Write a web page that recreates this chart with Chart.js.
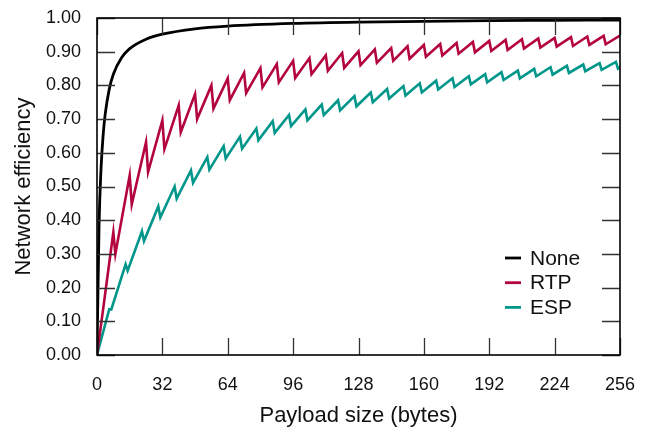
<!DOCTYPE html>
<html>
<head>
<meta charset="utf-8">
<script src="https://cdn.jsdelivr.net/npm/chart.js@4.4.1/dist/chart.umd.min.js"></script>
<style>
  body { margin: 0; background: #fff; }
  canvas { display: block; }
</style>
</head>
<body>
<canvas id="myChart" width="648" height="429"></canvas>
<script>
// series names and colours
var seriesNames = ['None', 'RTP', 'ESP'];
var seriesColors = ['#000000', '#b3043f', '#00968a'];

// None (smooth curve)
var noneX = [0, 1, 2, 3, 4, 6, 8, 12, 16, 24, 32, 48, 64, 96, 128, 160, 192, 224, 256];
var noneY = [0, 0.385, 0.556, 0.652, 0.714, 0.789, 0.833, 0.882, 0.909, 0.937, 0.952, 0.968, 0.976, 0.984, 0.988, 0.990, 0.992, 0.993, 0.994];

// RTP (peaks and troughs of the sawtooth)
var rtpX = [0, 8, 9, 16, 17, 24, 25, 32, 33, 40, 41, 48, 49, 56, 57, 64, 65, 72, 73, 80, 81, 88, 89, 96, 97,
  104, 105, 112, 113, 120, 121, 128, 129, 136, 137, 144, 145, 152, 153, 160, 161, 168, 169, 176, 177,
  184, 185, 192, 193, 200, 201, 208, 209, 216, 217, 224, 225, 232, 233, 240, 241, 248, 249, 256];
var rtpY = [0, 0.364, 0.300, 0.533, 0.447, 0.632, 0.543, 0.696, 0.611, 0.741, 0.661, 0.774, 0.700, 0.800, 0.731,
  0.821, 0.756, 0.837, 0.777, 0.851, 0.794, 0.863, 0.809, 0.873, 0.822, 0.881, 0.833, 0.889, 0.843,
  0.896, 0.852, 0.901, 0.860, 0.907, 0.867, 0.911, 0.873, 0.916, 0.879, 0.920, 0.885, 0.923, 0.889,
  0.926, 0.894, 0.929, 0.898, 0.932, 0.902, 0.935, 0.905, 0.937, 0.909, 0.939, 0.912, 0.941, 0.915,
  0.943, 0.917, 0.945, 0.920, 0.947, 0.922, 0.948];

// ESP (peaks and troughs of the sawtooth)
var espX = [0, 6, 7, 14, 15, 22, 23, 30, 31, 38, 39, 46, 47, 54, 55, 62, 63, 70, 71, 78, 79, 86, 87, 94, 95,
  102, 103, 110, 111, 118, 119, 126, 127, 134, 135, 142, 143, 150, 151, 158, 159, 166, 167, 174, 175,
  182, 183, 190, 191, 198, 199, 206, 207, 214, 215, 222, 223, 230, 231, 238, 239, 246, 247, 254, 255, 256];
var espY = [0, 0.136, 0.135, 0.269, 0.250, 0.367, 0.338, 0.441, 0.408, 0.500, 0.464, 0.548, 0.511, 0.587, 0.550,
  0.620, 0.583, 0.648, 0.612, 0.672, 0.637, 0.694, 0.659, 0.712, 0.679, 0.729, 0.696, 0.743, 0.712,
  0.756, 0.726, 0.768, 0.738, 0.779, 0.750, 0.789, 0.761, 0.798, 0.770, 0.806, 0.779, 0.814, 0.788,
  0.821, 0.795, 0.827, 0.803, 0.833, 0.809, 0.839, 0.816, 0.844, 0.821, 0.849, 0.827, 0.854, 0.832,
  0.858, 0.837, 0.862, 0.842, 0.866, 0.846, 0.870, 0.850, 0.853];

var fontFamily = '"Liberation Sans", Arial, sans-serif';

function toPoints(xs, ys) {
    var pts = [];
    for (var i = 0; i < xs.length; i++) {
        pts.push({ x: xs[i], y: ys[i] });
    }
    return pts;
}

// frame + inward tick marks on all four sides, and the legend inside the plot
var framePlugin = {
    id: 'frame',
    afterDatasetsDraw: function(chart) {
        var ctx = chart.ctx;
        var a = chart.chartArea;
        var xs = chart.scales.x;
        var ys = chart.scales.y;
        ctx.save();
        ctx.strokeStyle = '#333';
        ctx.lineWidth = 1.3;
        ctx.beginPath();
        xs.ticks.forEach(function(t) {
            var px = Math.round(xs.getPixelForValue(t.value)) + 0.5;
            ctx.moveTo(px, a.bottom); ctx.lineTo(px, a.bottom - 17);
            ctx.moveTo(px, a.top); ctx.lineTo(px, a.top + 17);
        });
        ys.ticks.forEach(function(t) {
            var py = Math.round(ys.getPixelForValue(t.value)) + 0.5;
            ctx.moveTo(a.left, py); ctx.lineTo(a.left + 18, py);
            ctx.moveTo(a.right, py); ctx.lineTo(a.right - 18, py);
        });
        ctx.stroke();
        ctx.strokeStyle = '#000';
        ctx.lineWidth = 1.6;
        ctx.strokeRect(a.left, a.top, a.right - a.left, a.bottom - a.top);

        // legend
        ctx.font = '21px ' + fontFamily;
        ctx.textBaseline = 'middle';
        ctx.textAlign = 'left';
        for (var i = 0; i < seriesNames.length; i++) {
            var y = a.bottom - 97 + i * 24.7;
            ctx.strokeStyle = seriesColors[i];
            ctx.lineWidth = 2.8;
            ctx.beginPath();
            ctx.moveTo(a.right - 115, y);
            ctx.lineTo(a.right - 99, y);
            ctx.stroke();
            ctx.fillStyle = '#111';
            ctx.fillText(seriesNames[i], a.right - 90, y + 1);
        }
        ctx.restore();
    }
};

var ctx = document.getElementById('myChart').getContext('2d');
var chart = new Chart(ctx, {
    type: 'line',
    data: {
        datasets: [{
            label: seriesNames[0],
            data: toPoints(noneX, noneY),
            borderColor: seriesColors[0],
            borderWidth: 2.8,
            pointRadius: 0,
            cubicInterpolationMode: 'monotone'
        }, {
            label: seriesNames[1],
            data: toPoints(rtpX, rtpY),
            borderColor: seriesColors[1],
            borderWidth: 2.6,
            pointRadius: 0,
            tension: 0
        }, {
            label: seriesNames[2],
            data: toPoints(espX, espY),
            borderColor: seriesColors[2],
            borderWidth: 2.6,
            pointRadius: 0,
            tension: 0
        }]
    },
    options: {
        responsive: false,
        animation: false,
        devicePixelRatio: 1,
        layout: { padding: { top: 18, right: 28, left: 0, bottom: 0 } },
        plugins: {
            legend: { display: false },
            tooltip: { enabled: false }
        },
        scales: {
            x: {
                type: 'linear',
                min: 0,
                max: 256,
                border: { display: false },
                grid: { display: false, drawTicks: false },
                ticks: {
                    stepSize: 32,
                    padding: 19,
                    color: '#111',
                    font: { family: fontFamily, size: 18 },
                    maxRotation: 0
                },
                title: {
                    display: true,
                    text: 'Payload size (bytes)',
                    color: '#111',
                    font: { family: fontFamily, size: 22 },
                    padding: { top: 4, bottom: 0 }
                },
                afterFit: function(s) {
                    s.height = 74;
                    s.paddingLeft = 0;
                    s.paddingRight = 0;
                }
            },
            y: {
                min: 0,
                max: 1,
                border: { display: false },
                grid: { display: false, drawTicks: false },
                ticks: {
                    stepSize: 0.1,
                    padding: 16,
                    color: '#111',
                    font: { family: fontFamily, size: 18 },
                    callback: function(v) { return v.toFixed(2); }
                },
                title: {
                    display: true,
                    text: 'Network efficiency',
                    color: '#111',
                    font: { family: fontFamily, size: 22 },
                    padding: { top: 11, bottom: 0 }
                },
                afterFit: function(s) {
                    s.width = 97;
                    s.paddingTop = 0;
                    s.paddingBottom = 0;
                }
            }
        }
    },
    plugins: [framePlugin]
});
</script>
</body>
</html>
